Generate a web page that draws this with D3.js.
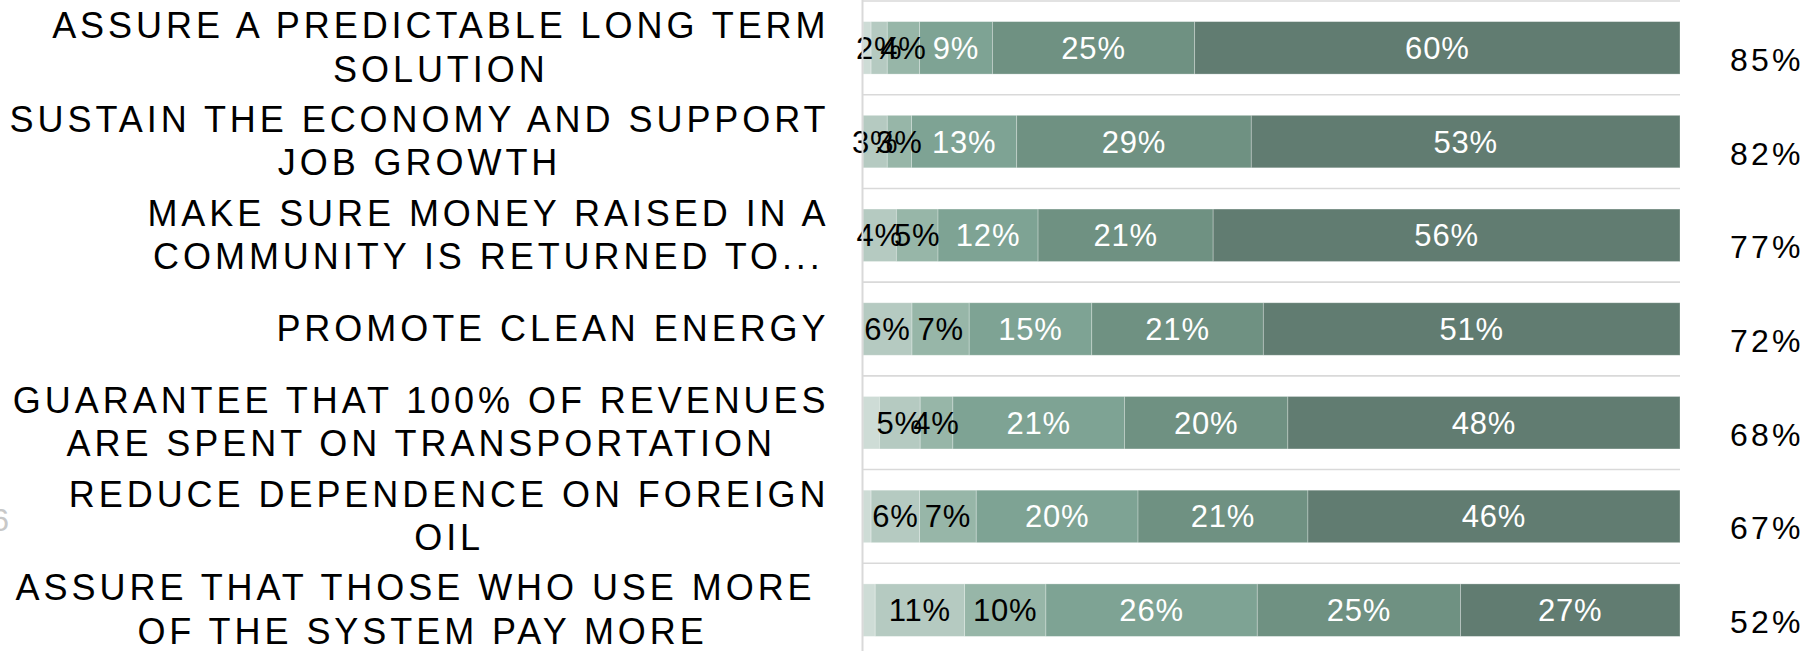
<!DOCTYPE html>
<html>
<head>
<meta charset="utf-8">
<script src="https://cdn.jsdelivr.net/npm/d3@7"></script>
<style>
  html, body { margin: 0; padding: 0; background: #fff; }
  svg { display: block; font-family: "Liberation Sans", Arial, sans-serif; }
</style>
</head>
<body>
<div id="chart"></div>
<script>
// categories, each one already split into its wrapped lines
const categories = [
  ["ASSURE A PREDICTABLE LONG TERM", "SOLUTION"],
  ["SUSTAIN THE ECONOMY AND SUPPORT", "JOB GROWTH"],
  ["MAKE SURE MONEY RAISED IN A", "COMMUNITY IS RETURNED TO..."],
  ["PROMOTE CLEAN ENERGY"],
  ["GUARANTEE THAT 100% OF REVENUES", "ARE SPENT ON TRANSPORTATION"],
  ["REDUCE DEPENDENCE ON FOREIGN", "OIL"],
  ["ASSURE THAT THOSE WHO USE MORE ", "OF THE SYSTEM PAY MORE"]
];

// series, from least to most important (percent)
const dontKnow = [1, 0, 0, 0, 2, 1, 1.5];
const rating1  = [2, 3, 4, 6, 5, 6, 11];
const rating2  = [4, 3, 5, 7, 4, 7, 10];
const rating3  = [9, 13, 12, 15, 21, 20, 26];
const rating4  = [25, 29, 21, 21, 20, 21, 25];
const rating5  = [60, 53, 56, 51, 48, 46, 27];

// net "important" shown on the right
const netImportant = [85, 82, 77, 72, 68, 67, 52];

const keys   = ["dk", "r1", "r2", "r3", "r4", "r5"];
const series = [dontKnow, rating1, rating2, rating3, rating4, rating5];
const colours = ["#cedcd6", "#b5cac1", "#97b6a8", "#7ea394", "#6f9182", "#617c71"];
const labelColours = [null, "#000", "#000", "#fff", "#fff", "#fff"];

const width = 1819, height = 651;

// build rows for the stack
const rows = categories.map(function(c, i) {
  const row = { idx: i };
  keys.forEach(function(k, j) { row[k] = series[j][i]; });
  return row;
});

const svg = d3.select("#chart").append("svg")
  .attr("width", width)
  .attr("height", height);

const x = d3.scaleLinear().domain([0, 1]).range([863, 1680]);

const y = d3.scaleBand()
  .domain(d3.range(categories.length))
  .range([1, 657])
  .paddingInner(0.44)
  .paddingOuter(0.22);

const gap = (y.step() - y.bandwidth()) / 2;

// horizontal gridlines between the bars
svg.append("g")
  .selectAll("line")
  .data(d3.range(categories.length))
  .enter()
  .append("line")
  .attr("x1", x(0))
  .attr("x2", x(1))
  .attr("y1", function(d) { return y(d) - gap; })
  .attr("y2", function(d) { return y(d) - gap; })
  .attr("stroke", "#d9d9d9")
  .attr("stroke-width", 1.6);

// 100% stacked
const stacked = d3.stack().keys(keys).offset(d3.stackOffsetExpand)(rows);

const layers = svg.append("g")
  .selectAll("g")
  .data(stacked)
  .enter()
  .append("g")
  .attr("fill", function(d, i) { return colours[i]; });

layers.selectAll("rect")
  .data(function(d) { return d; })
  .enter()
  .append("rect")
  .attr("x", function(d) { return x(d[0]); })
  .attr("width", function(d) { return x(d[1]) - x(d[0]); })
  .attr("y", function(d) { return y(d.data.idx); })
  .attr("height", y.bandwidth())
  .attr("stroke", "#ffffff")
  .attr("stroke-opacity", 0.35)
  .attr("stroke-width", 0.8);

// value labels inside the segments (not for the first series)
stacked.forEach(function(layer, i) {
  if (i === 0) return;
  svg.append("g")
    .selectAll("text")
    .data(layer.filter(function(d) { return d[1] - d[0] > 0; }))
    .enter()
    .append("text")
    .attr("x", function(d) { return (x(d[0]) + x(d[1])) / 2; })
    .attr("y", function(d) { return y(d.data.idx) + y.bandwidth() / 2 + 11; })
    .attr("text-anchor", "middle")
    .attr("font-size", 31)
    .attr("letter-spacing", 0.8)
    .attr("fill", labelColours[i])
    .text(function(d) { return d.data[layer.key] + "%"; });
});

// vertical axis line
svg.append("line")
  .attr("x1", 862.5).attr("x2", 862.5)
  .attr("y1", 0).attr("y2", height)
  .attr("stroke", "#d9d9d9")
  .attr("stroke-width", 2);

// category labels: block right aligned, lines centred inside it
const lineHeight = 43.4;
const blockRight = 829.5;
categories.forEach(function(lines, i) {
  const cy = y(i) + y.bandwidth() / 2;
  const t = svg.append("text")
    .attr("font-size", 36)
    .attr("letter-spacing", 3.95)
    .attr("fill", "#000")
    .attr("text-anchor", "middle")
    .style("white-space", "pre");
  const spans = lines.map(function(line, k) {
    return t.append("tspan")
      .attr("y", cy + (k - (lines.length - 1) / 2) * lineHeight + 12)
      .text(line);
  });
  const maxW = d3.max(spans, function(s) { return s.node().getComputedTextLength(); });
  spans.forEach(function(s) { s.attr("x", blockRight - maxW / 2); });
});

// net importance on the right
svg.append("g")
  .selectAll("text")
  .data(netImportant)
  .enter()
  .append("text")
  .attr("x", 1730)
  .attr("y", function(d, i) { return y(i) + y.bandwidth() / 2 + 23; })
  .attr("font-size", 32)
  .attr("letter-spacing", 3.2)
  .attr("fill", "#000")
  .text(function(d) { return d + "%"; });

// page number fragment cut off at the left edge
svg.append("text")
  .attr("x", 9)
  .attr("y", 531)
  .attr("text-anchor", "end")
  .attr("font-size", 32)
  .attr("fill", "#c8c8c8")
  .text("6");
</script>
</body>
</html>
